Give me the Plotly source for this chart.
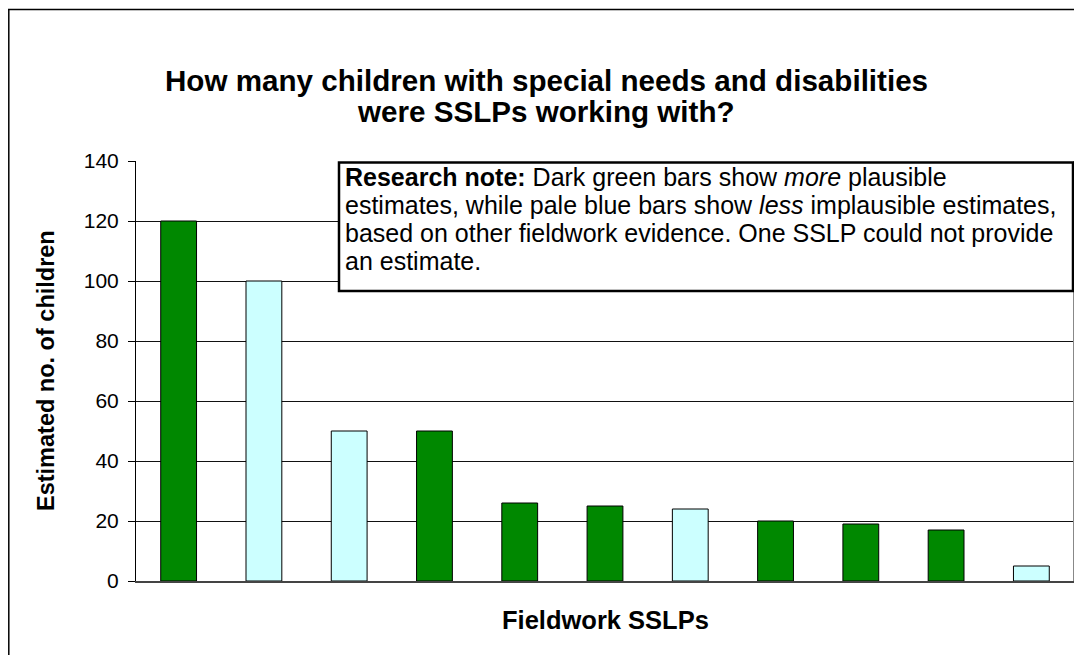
import plotly.graph_objects as go

# ---- data ----
categories = ["SSLP 1", "SSLP 2", "SSLP 3", "SSLP 4", "SSLP 5", "SSLP 6",
              "SSLP 7", "SSLP 8", "SSLP 9", "SSLP 10", "SSLP 11"]
estimates = [120, 100, 50, 50, 26, 25, 24, 20, 19, 17, 5]
plausibility = ["more", "less", "less", "more", "more", "more",
                "less", "more", "more", "more", "less"]
y_ticks = [0, 20, 40, 60, 80, 100, 120, 140]

title_lines = ["How many children with special needs and disabilities",
               "were SSLPs working with?"]
note_lines = ["<b>Research note:</b> Dark green bars show <i>more</i> plausible",
              "estimates, while pale blue bars show <i>less</i> implausible estimates,",
              "based on other fieldwork evidence. One SSLP could not provide",
              "an estimate."]

color_map = {"more": "#008800", "less": "#CCFFFF"}
bar_colors = [color_map[p] for p in plausibility]

# page has an 8px body margin; work in page coordinates and offset
OFF = 8
PAGE_W, PAGE_H = 1082, 655
W, H = PAGE_W - OFF, PAGE_H - OFF
# plot area in page coords: x 136..1074, y 161..581
L = 136 - OFF
R = PAGE_W - 1074
T = 161 - OFF
B = PAGE_H - 581
pw, ph = W - L - R, H - T - B

def px_x(x):  # page x -> paper
    return (x - OFF - L) / pw

def px_y(y):  # page y -> paper
    return (H - B - (y - OFF)) / ph

fig = go.Figure()
fig.add_trace(go.Bar(
    x=categories, y=estimates,
    marker=dict(color=bar_colors, line=dict(color="#000000", width=1)),
    showlegend=False,
))

font_family = "Liberation Sans, Arial, sans-serif"

fig.update_layout(
    width=W, height=H,
    margin=dict(l=L, r=R, t=T, b=B, autoexpand=False),
    paper_bgcolor="white", plot_bgcolor="white",
    bargap=0.58,
    font=dict(family=font_family, color="black"),
    xaxis=dict(showticklabels=False, showgrid=False, ticks="",
               showline=True, linecolor="#444444", linewidth=2,
               mirror=False, zeroline=False),
    yaxis=dict(range=[0, 140], tickvals=y_ticks, ticktext=[str(v) for v in y_ticks],
               tickfont=dict(size=21, family=font_family, color="black"),
               ticks="outside", ticklen=7, tickcolor="#000000", tickwidth=1,
               ticklabelstandoff=5,
               showgrid=True, gridcolor="#111111", gridwidth=1,
               showline=True, linecolor="#000000", linewidth=1,
               zeroline=False),
)

# right edge of plot area
fig.add_shape(type="line", xref="paper", yref="paper", x0=1, x1=1, y0=0, y1=1,
              line=dict(color="#888888", width=2))

# outer chart border (left and top)
fig.add_shape(type="line", xref="paper", yref="paper",
              x0=px_x(8.8), x1=px_x(8.8), y0=px_y(9), y1=px_y(PAGE_H + 5),
              line=dict(color="#000000", width=1.5))
fig.add_shape(type="line", xref="paper", yref="paper",
              x0=px_x(8), x1=px_x(PAGE_W + 5), y0=px_y(9.5), y1=px_y(9.5),
              line=dict(color="#000000", width=1.5))

# title (two lines)
for line, yc in zip(title_lines, [80, 112]):
    fig.add_annotation(
        xref="paper", yref="paper", x=px_x(546), y=px_y(yc),
        xanchor="center", yanchor="middle", showarrow=False,
        text=f"<b>{line}</b>",
        font=dict(size=29.6, family=font_family, color="black"),
    )

# axis titles
fig.add_annotation(
    xref="paper", yref="paper", x=px_x(46), y=px_y(371),
    xanchor="center", yanchor="middle", showarrow=False, textangle=-90,
    text="<b>Estimated no. of children</b>",
    font=dict(size=23.5, family=font_family, color="black"),
)
fig.add_annotation(
    xref="paper", yref="paper", x=px_x(605), y=px_y(620),
    xanchor="center", yanchor="middle", showarrow=False,
    text="<b>Fieldwork SSLPs</b>",
    font=dict(size=25.5, family=font_family, color="black"),
)

# research note box
fig.add_shape(type="rect", xref="paper", yref="paper",
              x0=px_x(339), x1=px_x(1073), y0=px_y(291), y1=px_y(162.5),
              fillcolor="white", line=dict(color="black", width=2.5), layer="above")
for line, yc in zip(note_lines, [177, 205, 233, 261]):
    fig.add_annotation(
        xref="paper", yref="paper", x=px_x(343), y=px_y(yc),
        xanchor="left", yanchor="middle", showarrow=False,
        text=line, align="left",
        font=dict(size=25, family=font_family, color="black"),
    )

fig.write_html("out.html")
